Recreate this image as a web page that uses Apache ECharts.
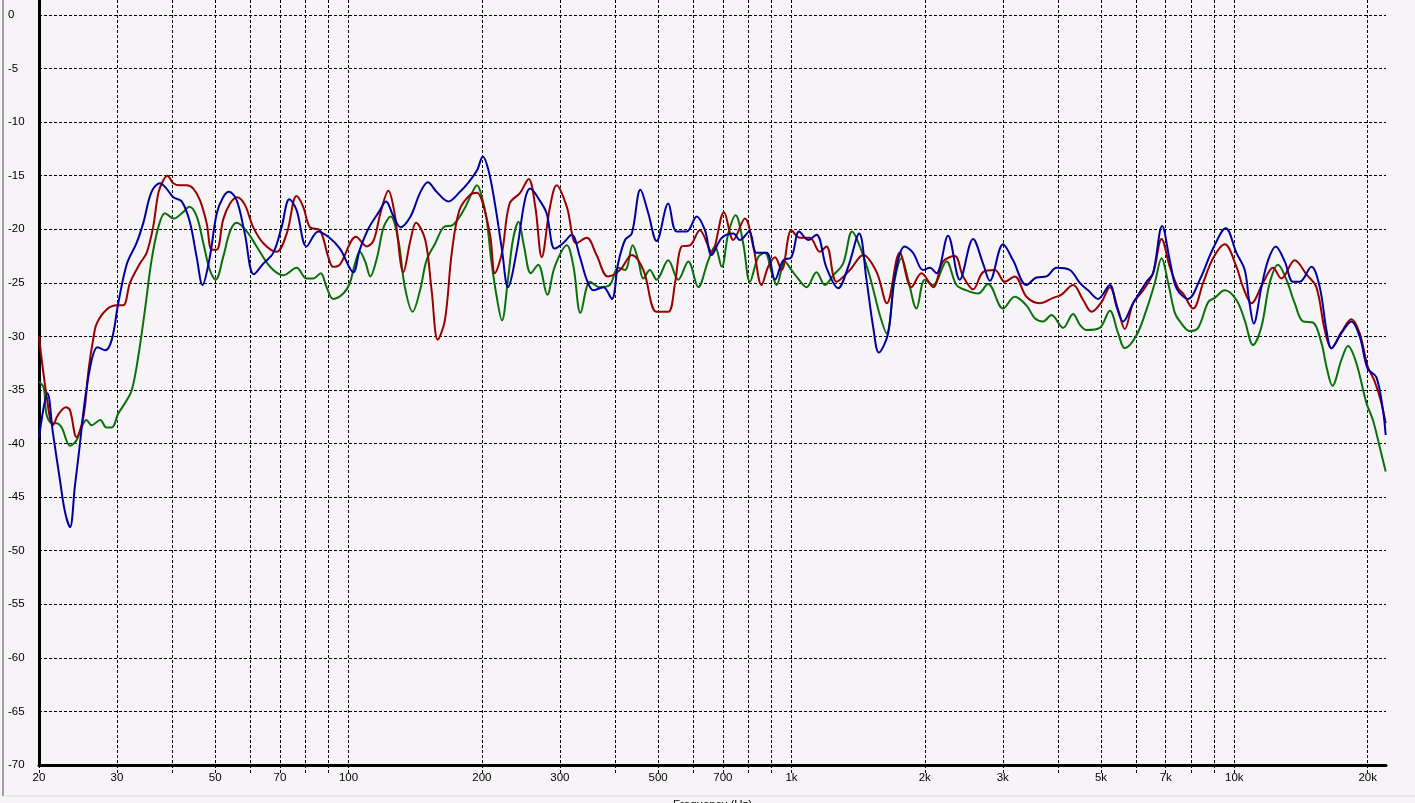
<!DOCTYPE html>
<html>
<head>
<meta charset="utf-8">
<script src="https://cdn.jsdelivr.net/npm/echarts@6/dist/echarts.min.js"></script>
<style>
html,body{margin:0;padding:0;background:#f7f4f7;}
#c{width:1415px;height:803px;}
</style>
</head>
<body>
<div id="c"></div>
<script>
// Frequency (Hz) grid lines and labelled ticks
const gridFreqs = [20,30,40,50,60,70,80,90,100,200,300,400,500,600,700,800,900,1000,2000,3000,4000,5000,6000,7000,8000,9000,10000,20000];
const labelFreqs = [20,30,50,70,100,200,300,500,700,1000,2000,3000,5000,7000,10000,20000];

// [frequency Hz, level dB]
const redData = [[20,-30.0],[20.8,-35.5],[21.5,-38.3],[22.1,-37.3],[23.0,-36.6],[23.5,-36.9],[24.3,-39.4],[25.2,-37.5],[25.9,-33.0],[26.5,-30.3],[27.0,-28.8],[28.4,-27.5],[30.0,-27.1],[31.0,-27.1],[32.1,-25.0],[33.8,-23.2],[35.0,-22.2],[36.2,-19.8],[37.2,-16.6],[38.2,-15.4],[39.0,-15.0],[40.2,-15.7],[41.6,-15.9],[43.1,-15.9],[44.6,-16.2],[46.2,-17.3],[47.8,-19.4],[49.1,-21.9],[50.4,-21.9],[52.1,-19.1],[54.0,-17.6],[56.0,-17.0],[58.3,-17.7],[60.9,-19.8],[64.2,-21.3],[68.8,-22.1],[72.5,-20.4],[76.3,-16.9],[79.0,-17.9],[81.8,-19.8],[86.2,-20.1],[90.0,-22.6],[92.3,-23.5],[95.6,-23.3],[104,-20.7],[110,-21.6],[114,-21.0],[118,-18.5],[123,-16.4],[127,-18.5],[133,-24.0],[138,-21.0],[142,-19.4],[149,-21.0],[154,-25.7],[159,-30.3],[165,-28.5],[171,-22.2],[178,-18.2],[188,-16.8],[195,-16.6],[201,-17.6],[209,-20.7],[214,-24.1],[222,-22.2],[231,-17.6],[244,-16.6],[255,-15.3],[264,-17.9],[273,-22.6],[285,-17.9],[295,-15.9],[311,-17.9],[327,-21.3],[345,-20.8],[363,-22.4],[385,-24.4],[410,-23.8],[436,-22.4],[463,-23.8],[496,-27.7],[527,-27.7],[546,-25.0],[565,-21.6],[590,-21.5],[621,-20.1],[660,-22.1],[704,-18.4],[739,-21.0],[785,-19.0],[820,-21.6],[856,-25.2],[886,-23.5],[918,-22.6],[950,-23.8],[1000,-20.1],[1045,-20.8],[1100,-20.8],[1159,-22.1],[1200,-21.6],[1264,-24.9],[1355,-23.8],[1452,-22.4],[1557,-24.0],[1642,-26.9],[1756,-22.2],[1866,-25.4],[1966,-24.1],[2088,-25.4],[2200,-23.0],[2337,-22.5],[2441,-24.4],[2571,-25.6],[2708,-24.0],[2878,-23.8],[3031,-24.9],[3193,-24.4],[3393,-26.3],[3637,-26.9],[3898,-26.4],[4071,-26.1],[4324,-25.2],[4556,-26.6],[4759,-27.7],[5013,-26.8],[5234,-25.4],[5465,-27.5],[5658,-29.3],[5907,-26.9],[6223,-25.7],[6554,-24.1],[6849,-20.9],[7150,-23.5],[7466,-25.5],[7662,-26.0],[8071,-27.4],[8502,-25.0],[8953,-22.7],[9513,-21.4],[10110,-23.5],[10463,-25.4],[10930,-26.9],[11609,-25.0],[12228,-23.6],[12772,-24.6],[13687,-22.9],[14545,-24.2],[15318,-25.4],[15998,-29.4],[16566,-31.1],[17446,-29.6],[18376,-28.4],[19186,-29.7],[20000,-32.8],[20742,-34.2],[21476,-36.2],[21964,-38.1]];

const blueData = [[20,-39.5],[20.9,-35.3],[21.5,-39.0],[22.3,-43.4],[22.9,-46.4],[23.5,-47.8],[24.1,-44.0],[24.7,-40.3],[25.4,-35.9],[26.3,-32.2],[27.1,-31.0],[28.2,-31.3],[29.2,-30.3],[30.2,-26.9],[31.6,-23.2],[33.2,-21.3],[34.4,-19.4],[35.9,-16.5],[37.5,-15.7],[38.8,-16.2],[40.2,-17.0],[42.0,-17.4],[43.8,-19.3],[45.4,-22.6],[46.8,-25.2],[48.6,-22.6],[50.4,-18.5],[52.1,-17.0],[53.7,-16.5],[55.9,-17.3],[58.3,-20.4],[61.1,-24.2],[64.2,-23.2],[67.6,-22.2],[70.6,-19.8],[73.5,-17.2],[76.3,-18.2],[80.4,-21.6],[85.4,-20.2],[90.0,-20.7],[95.6,-21.8],[102.5,-24.0],[106,-21.9],[111,-19.9],[117,-18.4],[121.5,-17.4],[126,-18.7],[131,-19.8],[138,-18.8],[145,-16.6],[151,-15.6],[158,-16.5],[168,-17.4],[178.5,-16.5],[186,-15.7],[195,-14.5],[201,-13.2],[207,-14.5],[214,-17.6],[222,-21.9],[229,-25.4],[240,-21.9],[250,-17.3],[257,-16.2],[270,-17.3],[280,-18.5],[292,-21.8],[305,-21.3],[319,-20.5],[333,-22.6],[345,-24.7],[357,-25.7],[376,-25.4],[393,-26.5],[406,-23.2],[421,-21.0],[436,-20.4],[456,-16.3],[475,-18.5],[496,-21.1],[527,-17.6],[550,-20.2],[580,-20.2],[611,-18.8],[638,-20.1],[660,-22.4],[696,-20.8],[739,-20.4],[765,-21.0],[803,-20.2],[834,-22.2],[879,-22.2],[918,-24.7],[958,-22.9],[1000,-22.6],[1041,-20.2],[1091,-21.0],[1139,-20.5],[1200,-23.6],[1275,-25.5],[1343,-23.5],[1422,-20.4],[1477,-24.7],[1529,-29.1],[1575,-31.5],[1653,-29.7],[1711,-24.4],[1802,-21.6],[1882,-22.2],[1982,-23.8],[2053,-23.6],[2125,-24.1],[2257,-20.6],[2399,-24.7],[2571,-20.9],[2708,-23.2],[2804,-24.8],[3005,-21.4],[3165,-22.9],[3393,-25.2],[3575,-24.5],[3766,-24.4],[3967,-23.6],[4251,-23.8],[4478,-25.0],[4676,-25.7],[4925,-26.5],[5234,-25.2],[5420,-27.2],[5608,-28.6],[5907,-26.9],[6333,-24.9],[6554,-24.1],[6870,-19.7],[7150,-22.9],[7404,-25.5],[7864,-26.5],[8357,-24.7],[8953,-21.8],[9563,-19.9],[10110,-22.2],[10555,-23.8],[10795,-26.6],[11061,-28.8],[11512,-25.4],[11915,-22.9],[12401,-21.6],[12993,-23.0],[13567,-24.9],[14046,-24.9],[14928,-23.5],[15590,-25.4],[16140,-29.4],[16566,-31.1],[17446,-29.7],[18376,-28.6],[19186,-30.0],[20000,-33.0],[20926,-33.8],[21656,-36.9],[21964,-39.2]];

const greenData = [[20,-34.2],[20.5,-34.8],[20.8,-37.3],[21.4,-38.1],[21.9,-38.1],[22.5,-38.5],[23.5,-40.2],[24.3,-39.7],[25.0,-38.4],[25.6,-37.8],[26.3,-38.3],[27.5,-37.8],[28.4,-38.5],[29.2,-38.5],[30.2,-37.2],[31.3,-36.2],[32.4,-35.0],[33.5,-31.9],[34.7,-27.5],[35.9,-22.9],[37.2,-19.8],[38.5,-18.5],[40.3,-19.0],[42.3,-18.4],[43.7,-17.9],[45.4,-18.8],[47.0,-21.3],[48.6,-23.8],[50.1,-24.7],[52.1,-22.6],[54.0,-20.2],[55.9,-19.4],[58.9,-20.2],[62.0,-21.6],[66.5,-23.5],[71.2,-24.3],[76.3,-23.6],[80.4,-24.6],[83.2,-24.6],[86.5,-24.1],[89.2,-25.4],[92.3,-26.5],[97.3,-26.0],[100.7,-25.0],[103.4,-23.2],[106,-22.1],[109,-23.0],[112,-24.4],[116,-22.6],[120,-19.8],[124.5,-18.8],[129.5,-21.0],[134,-25.4],[139.5,-27.7],[145,-25.7],[150,-22.9],[157,-21.3],[164,-19.8],[172,-19.6],[182,-18.2],[190,-16.6],[195,-15.9],[200,-17.0],[205,-19.1],[210,-22.9],[216,-26.3],[222,-28.5],[229,-24.7],[235,-21.0],[242,-19.3],[249,-21.6],[258,-24.1],[268,-23.3],[281,-26.1],[292,-23.5],[311,-21.5],[322,-23.5],[334,-27.8],[351,-24.9],[369,-25.4],[389,-25.2],[406,-23.6],[421,-23.8],[438,-21.5],[451,-22.9],[463,-24.6],[479,-23.8],[496,-24.7],[527,-22.9],[555,-24.7],[585,-23.0],[616,-25.4],[649,-22.9],[672,-21.6],[696,-23.5],[720,-20.4],[748,-18.7],[778,-21.3],[806,-24.9],[841,-22.6],[871,-22.2],[902,-24.0],[926,-25.2],[966,-23.0],[1000,-23.8],[1035,-24.6],[1082,-25.4],[1139,-24.0],[1190,-25.2],[1242,-24.3],[1308,-23.2],[1371,-20.2],[1427,-21.6],[1503,-24.4],[1583,-28.0],[1640,-29.7],[1711,-24.7],[1772,-22.7],[1834,-24.7],[1916,-27.4],[2000,-24.7],[2088,-25.2],[2239,-23.0],[2358,-25.2],[2484,-25.7],[2639,-26.0],[2779,-25.1],[3005,-27.4],[3193,-26.3],[3393,-27.1],[3544,-28.3],[3700,-28.6],[3865,-28.0],[4105,-29.2],[4324,-27.9],[4478,-28.9],[4637,-29.4],[4969,-29.2],[5234,-27.6],[5465,-29.7],[5658,-31.1],[6012,-29.9],[6333,-27.5],[6614,-25.0],[6849,-22.7],[7088,-25.0],[7339,-27.8],[7533,-28.6],[7934,-29.5],[8283,-29.2],[8726,-26.8],[9033,-26.4],[9513,-25.7],[10110,-26.6],[10555,-28.5],[11020,-30.8],[11512,-29.1],[12020,-25.0],[12550,-23.3],[13109,-24.7],[13687,-26.9],[14289,-28.6],[15053,-28.7],[15726,-30.6],[16140,-32.8],[16652,-34.6],[17446,-32.2],[18054,-30.9],[18859,-32.5],[19865,-36.2],[20552,-37.8],[21288,-40.3],[21964,-42.6]];

const lg = v => Math.log10(v);
const toXY = arr => arr.map(p => [lg(p[0]), p[1]]);
const fmtFreq = v => {
  const f = Math.round(Math.pow(10, v));
  return f >= 1000 ? (f / 1000) + 'k' : String(f);
};
const dash = [3, 2];
const font = 'Liberation Sans';

const chart = echarts.init(document.getElementById('c'), null, {renderer: 'canvas'});
const mkSeries = (name, data, color) => ({
  name, type: 'line', data: toXY(data), showSymbol: false, symbol: 'none',
  smooth: 0.35, lineStyle: {color, width: 2}, itemStyle: {color},
  emphasis: {disabled: true}, animation: false
});

chart.setOption({
  backgroundColor: '#f7f4f7',
  animation: false,
  grid: {left: 39, right: 29, top: 0, bottom: 38, containLabel: false, outerBoundsMode: 'none'},
  xAxis: {
    type: 'value', min: lg(20), max: lg(22000),
    axisLine: {show: true, onZero: false, lineStyle: {color: '#000', width: 3}},
    axisTick: {show: true, length: 8, customValues: gridFreqs.map(lg), lineStyle: {color: '#000', width: 1, type: dash}},
    axisLabel: {customValues: labelFreqs.map(lg), formatter: fmtFreq, color: '#000', fontSize: 11.5, fontFamily: font, margin: 7},
    splitLine: {show: true, lineStyle: {color: '#000', width: 1, type: dash}},
    name: 'Frequency (Hz)', nameLocation: 'middle', nameGap: 34,
    nameTextStyle: {color: '#000', fontSize: 11.5, fontFamily: font}
  },
  yAxis: {
    type: 'value', min: -70, max: 1.4, interval: 5,
    axisLine: {show: true, onZero: false, lineStyle: {color: '#000', width: 3}},
    axisTick: {show: false},
    axisLabel: {
      showMaxLabel: false, align: 'left', margin: 31,
      formatter: v => (Math.abs(v % 5) < 1e-6 ? String(v) : ''),
      color: '#000', fontSize: 11.5, fontFamily: font
    },
    splitLine: {show: true, showMinLine: false, showMaxLine: false, lineStyle: {color: '#000', width: 1, type: dash}}
  },
  graphic: [
    {type: 'line', silent: true, shape: {x1: 3, y1: 0, x2: 3, y2: 796}, style: {stroke: '#a0a0a0', lineWidth: 2}},
    {type: 'line', silent: true, shape: {x1: 3, y1: 796, x2: 1415, y2: 796}, style: {stroke: '#dcdcdc', lineWidth: 1}}
  ],
  series: [
    mkSeries('Green', greenData, '#0a700a'),
    mkSeries('Red', redData, '#9a0000'),
    mkSeries('Blue', blueData, '#0000a0')
  ]
});
</script>
</body>
</html>
